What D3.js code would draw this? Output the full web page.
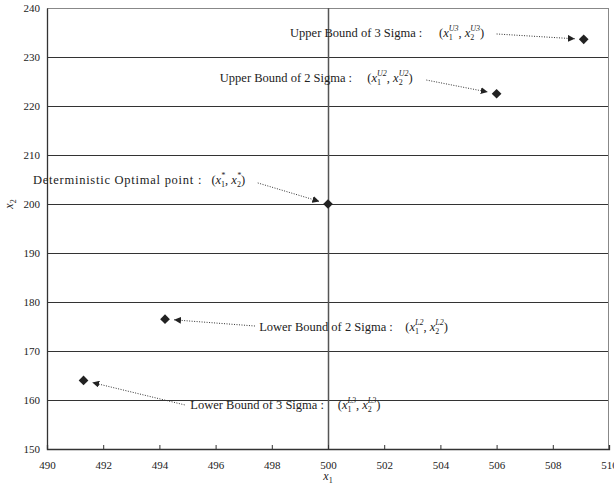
<!DOCTYPE html>
<html>
<head>
<meta charset="utf-8">
<script src="https://cdn.jsdelivr.net/npm/d3@7"></script>
<style>
  body { margin: 0; background: #fff; }
  svg text { font-family: "Liberation Serif", "Times New Roman", "DejaVu Serif", serif; fill: #222; }
</style>
</head>
<body>
<div id="chart"></div>
<script>
// points
const pointNames = ['U3', 'U2', 'opt', 'L2', 'L3']
const x1Values = [509.1, 506.0, 500.0, 494.2, 491.3]
const x2Values = [233.6, 222.5, 200.0, 176.5, 164.0]
const labelTexts = [
  'Upper Bound of 3 Sigma :',
  'Upper Bound of 2 Sigma :',
  'Deterministic Optimal point :',
  'Lower Bound of 2 Sigma :',
  'Lower Bound of 3 Sigma :'
]
const superscripts = ['U3', 'U2', '*', 'L2', 'L3']
// where the label text, the formula and the arrow tail sit, in data units
const labelX1 = [498.65, 496.15, 489.5, 497.55, 495.1]
const labelX2 = [234.9, 225.7, 204.9, 174.9, 159.0]
const formulaX1 = [503.95, 501.4, 495.85, 502.75, 500.35]
const arrowFromX1 = [506.0, 503.5, 497.5, 497.4, 494.9]
const arrowFromX2 = [234.7, 225.3, 204.3, 175.1, 159.0]

const xTicks = [490, 492, 494, 496, 498, 500, 502, 504, 506, 508, 510]
const yTicks = [150, 160, 170, 180, 190, 200, 210, 220, 230, 240]

const margin = { top: 8, right: 5, bottom: 35, left: 47 }
const width = 614 - margin.left - margin.right
const height = 484 - margin.top - margin.bottom

const svg = d3.select('#chart').append('svg')
  .attr('width', 614)
  .attr('height', 484)

svg.append('defs').append('marker')
  .attr('id', 'head')
  .attr('viewBox', '0 0 10 10')
  .attr('refX', 10)
  .attr('refY', 5)
  .attr('markerWidth', 7)
  .attr('markerHeight', 7)
  .attr('markerUnits', 'userSpaceOnUse')
  .attr('orient', 'auto')
  .append('path')
  .attr('d', 'M0,0 L10,5 L0,10 Z')
  .attr('fill', '#222')

const g = svg.append('g')
  .attr('transform', 'translate(' + margin.left + ',' + margin.top + ')')

const x = d3.scaleLinear().domain([490, 510]).range([0, width])
const y = d3.scaleLinear().domain([150, 240]).range([height, 0])

// horizontal grid
g.append('g')
  .selectAll('line')
  .data(yTicks)
  .join('line')
  .attr('x1', 0)
  .attr('x2', width)
  .attr('y1', d => Math.round(y(d)) + 0.5)
  .attr('y2', d => Math.round(y(d)) + 0.5)
  .attr('stroke', d => d === 240 ? '#888' : '#333')
  .attr('stroke-width', 1)

// right border
g.append('line')
  .attr('x1', width - 0.5).attr('x2', width - 0.5)
  .attr('y1', 0).attr('y2', height)
  .attr('stroke', '#888')

// vertical line at x1 = 500
g.append('line')
  .attr('x1', Math.round(x(500)) + 0.5).attr('x2', Math.round(x(500)) + 0.5)
  .attr('y1', 0).attr('y2', height)
  .attr('stroke', '#555')
  .attr('stroke-width', 1.5)

const xAxis = d3.axisBottom(x).tickValues(xTicks).tickSize(-4).tickPadding(12)
g.append('g')
  .attr('class', 'axis x-axis')
  .attr('transform', 'translate(0,' + height + ')')
  .call(xAxis)
  .call(a => a.select('.domain').attr('stroke', '#333').attr('stroke-width', 1.3))
  .call(a => a.selectAll('.tick line').attr('stroke', '#333'))
  .call(a => a.selectAll('text').attr('font-size', 11))

const yAxis = d3.axisLeft(y).tickValues(yTicks).tickSize(0).tickPadding(7)
g.append('g')
  .attr('class', 'axis y-axis')
  .call(yAxis)
  .call(a => a.select('.domain').attr('stroke', '#333').attr('stroke-width', 1.3))
  .call(a => a.selectAll('text').attr('font-size', 11))

// axis titles
const xTitle = svg.append('text')
  .attr('x', margin.left + x(500))
  .attr('y', 480)
  .attr('text-anchor', 'middle')
  .attr('font-size', 12)
xTitle.append('tspan').attr('font-style', 'italic').text('x')
xTitle.append('tspan').attr('font-size', 8).attr('dy', 3).text('1')

const yTitle = svg.append('text')
  .attr('transform', 'translate(13,' + (margin.top + y(200)) + ') rotate(-90)')
  .attr('text-anchor', 'middle')
  .attr('font-size', 12)
yTitle.append('tspan').attr('font-style', 'italic').text('x')
yTitle.append('tspan').attr('font-size', 8).attr('dy', 3).text('2')

// annotation labels
pointNames.forEach((name, i) => {
  const lab = g.append('text')
    .attr('x', x(labelX1[i]))
    .attr('y', y(labelX2[i]))
    .attr('dy', '0.35em')
    .attr('font-size', 12.5)
    .text(labelTexts[i])
  // the optimal-point label is spaced wider in the original
  if (name === 'opt') {
    lab.attr('textLength', x(formulaX1[i]) - x(labelX1[i]) - 10).attr('lengthAdjust', 'spacing')
  }

  const t = g.append('text')
    .attr('x', x(formulaX1[i]))
    .attr('y', y(labelX2[i]))
    .attr('dy', '0.35em')
    .attr('font-size', 12.5)
  t.append('tspan').text('(')
  t.append('tspan').attr('font-style', 'italic').text('x')
  t.append('tspan').attr('font-size', 8).attr('dy', 3).text('1')
  t.append('tspan').attr('font-size', 8).attr('dy', -9).attr('dx', -4).attr('font-style', 'italic').text(superscripts[i])
  t.append('tspan').attr('dy', 6).text(', ')
  t.append('tspan').attr('font-style', 'italic').text('x')
  t.append('tspan').attr('font-size', 8).attr('dy', 3).text('2')
  t.append('tspan').attr('font-size', 8).attr('dy', -9).attr('dx', -4).attr('font-style', 'italic').text(superscripts[i])
  t.append('tspan').attr('dy', 6).text(')')
})

// dotted arrows, stopping short of the marker
function arrowEnd(i) {
  const dx = x(x1Values[i]) - x(arrowFromX1[i])
  const dy = y(x2Values[i]) - y(arrowFromX2[i])
  const len = Math.sqrt(dx * dx + dy * dy)
  return [x(x1Values[i]) - dx / len * 9, y(x2Values[i]) - dy / len * 9]
}

g.append('g')
  .selectAll('line')
  .data(pointNames.map((n, i) => i))
  .join('line')
  .attr('x1', i => x(arrowFromX1[i]))
  .attr('y1', i => y(arrowFromX2[i]))
  .attr('x2', i => arrowEnd(i)[0])
  .attr('y2', i => arrowEnd(i)[1])
  .attr('stroke', '#333')
  .attr('stroke-width', 1)
  .attr('stroke-dasharray', '1,1.5')
  .attr('marker-end', 'url(#head)')

// diamond markers
g.append('g')
  .selectAll('path')
  .data(pointNames.map((n, i) => i))
  .join('path')
  .attr('transform', i => 'translate(' + x(x1Values[i]) + ',' + y(x2Values[i]) + ')')
  .attr('d', d3.symbol().type(d3.symbolDiamond2).size(60))
  .attr('fill', '#222')
</script>
</body>
</html>
